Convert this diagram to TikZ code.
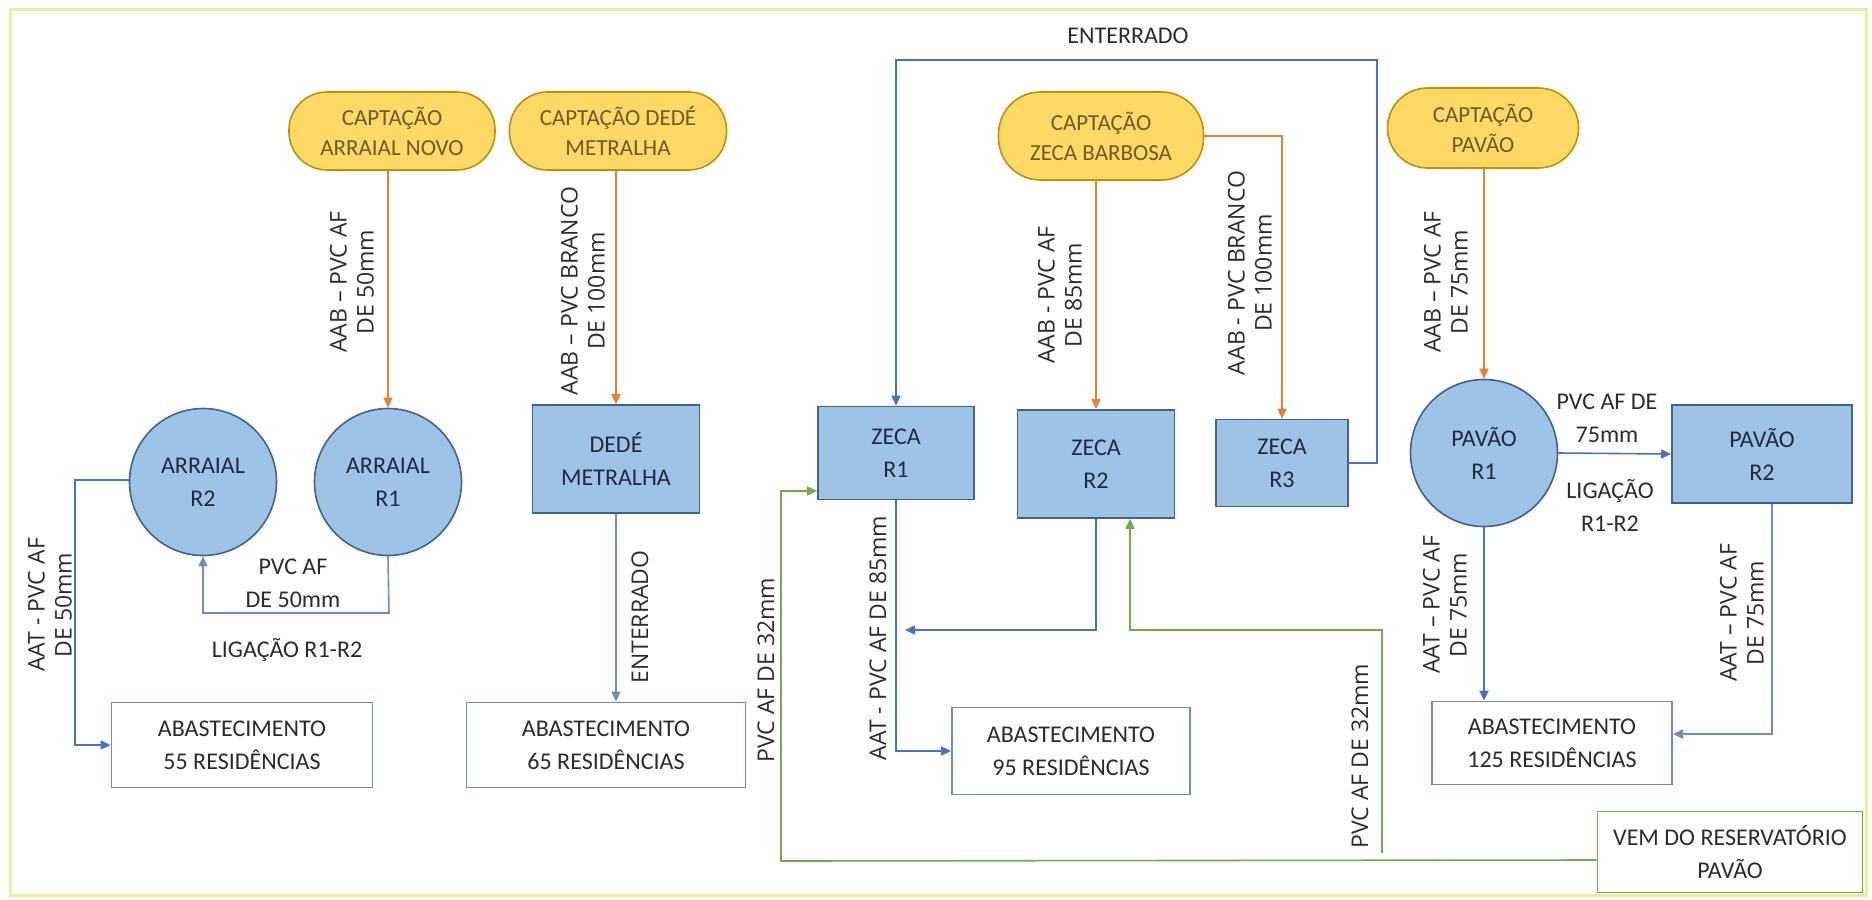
\documentclass[tikz,border=0pt]{standalone}
\usepackage{fontspec}
\setmainfont{Carlito}
\newfontfamily\labfont{Open Sans}
\usetikzlibrary{arrows.meta}
\definecolor{framecol}{HTML}{EEEE99}
\definecolor{bfill}{HTML}{9DC3E6}
\definecolor{bdraw}{HTML}{41628C}
\definecolor{btext}{HTML}{1F2A44}
\definecolor{bline}{HTML}{4472C4}
\definecolor{wdraw}{HTML}{6E8CBE}
\definecolor{yfill}{HTML}{FFD966}
\definecolor{ydraw}{HTML}{BF9000}
\definecolor{ytext}{HTML}{6E5B2A}
\definecolor{oline}{HTML}{ED7D31}
\definecolor{gline}{HTML}{70AD47}
\definecolor{ltext}{HTML}{2B2B2B}
\tikzset{
  capt/.style={draw=ydraw, fill=yfill, line width=0.8pt, rounded corners=19pt, align=center,
    text=ytext, font=\fontsize{11.5}{15}\selectfont, inner sep=0pt},
  tank/.style={draw=bdraw, fill=bfill, line width=0.8pt, align=center, text=btext,
    font=\fontsize{12}{16.5}\selectfont, inner sep=0pt},
  rtank/.style={tank, circle, minimum size=73.5pt},
  supply/.style={draw=wdraw, fill=white, line width=0.9pt, align=center, text=ltext,
    font=\fontsize{12}{16.5}\selectfont, inner sep=0pt},
  vemb/.style={draw=gline, fill=white, line width=0.9pt, align=center, text=ltext,
    font=\fontsize{12}{16.5}\selectfont, inner sep=0pt},
  rlab/.style={rotate=90, align=center, text=ltext, font=\labfont\fontsize{11.5}{13.5}\selectfont, inner sep=0pt},
  hlab/.style={align=center, text=ltext, font=\fontsize{12}{16.5}\selectfont, inner sep=0pt},
  tip/.style={-{Triangle[length=5pt,width=4.5pt]}},
  oarrow/.style={tip, draw=oline, line width=0.75pt},
  barrow/.style={tip, draw=bline, line width=0.8pt},
  bpale/.style={tip, draw=wdraw, line width=0.8pt},
  garrow/.style={tip, draw=gline, line width=0.8pt},
  gline/.style={draw=gline, line width=0.8pt}
}
\begin{document}
\begin{tikzpicture}[x=0.5pt, y=-0.5pt]
\useasboundingbox (0,0) rectangle (1872,899);
\draw[framecol, line width=1.5pt] (10,10) rectangle (1866,895);

% sources
\node[capt, minimum width=103pt, minimum height=39pt] (capAN) at (392,131) {CAPTAÇÃO\\ARRAIAL NOVO};
\node[capt, minimum width=108.5pt, minimum height=39pt] (capDD) at (618,131) {CAPTAÇÃO DEDÉ\\METRALHA};
\node[capt, minimum width=102.5pt, minimum height=44pt, rounded corners=21pt] (capZB) at (1101,136) {CAPTAÇÃO\\ZECA BARBOSA};
\node[capt, minimum width=95.5pt, minimum height=40pt, rounded corners=20pt] (capPV) at (1483,128) {CAPTAÇÃO\\PAVÃO};

% reservoirs
\node[rtank] (arR2) at (203,482) {ARRAIAL\\R2};
\node[rtank] (arR1) at (388,482) {ARRAIAL\\R1};
\node[tank, minimum width=83.5pt, minimum height=54pt] (dede) at (616,459) {DEDÉ\\METRALHA};
\node[tank, minimum width=78pt, minimum height=46.5pt] (zR1) at (896,453) {ZECA\\R1};
\node[tank, minimum width=78.5pt, minimum height=54pt] (zR2) at (1096,464) {ZECA\\R2};
\node[tank, minimum width=66pt, minimum height=43.5pt] (zR3) at (1282,463) {ZECA\\R3};
\node[rtank] (pvR1) at (1484,453) {PAVÃO\\R1};
\node[tank, minimum width=90pt, minimum height=49pt] (pvR2) at (1762,454) {PAVÃO\\R2};

% supplies
\node[supply, minimum width=130.5pt, minimum height=42.5pt] (ab55) at (242,745) {ABASTECIMENTO\\55 RESIDÊNCIAS};
\node[supply, minimum width=139.5pt, minimum height=42.5pt] (ab65) at (606,745) {ABASTECIMENTO\\65 RESIDÊNCIAS};
\node[supply, minimum width=119pt, minimum height=43.5pt] (ab95) at (1071,751) {ABASTECIMENTO\\95 RESIDÊNCIAS};
\node[supply, minimum width=120pt, minimum height=41.5pt] (ab125) at (1552,743) {ABASTECIMENTO\\125 RESIDÊNCIAS};
\node[vemb, minimum width=132.5pt, minimum height=40.5pt] (vem) at (1730,852) {VEM DO RESERVATÓRIO\\PAVÃO};

% orange intakes
\draw[oarrow] (arR1.north |- capAN.south) -- (arR1.north);
\draw[oarrow] (dede.north |- capDD.south) -- (dede.north);
\draw[oarrow] (zR2.north |- capZB.south) -- (zR2.north);
\draw[oarrow] (capZB.east) -| (zR3.north);
\draw[oarrow] (pvR1.north |- capPV.south) -- (pvR1.north);

% blue connections
\coordinate (tr) at (1377,60);
\draw[barrow] (zR3.east) -| (tr) -| (zR1.north);
\node[hlab] (lEntTop) at (1128,36) {ENTERRADO};

\coordinate (aR) at (389,613);
\draw[bpale] (arR1.south) -- (aR) -| (arR2.south);
\coordinate (aL) at (75,480);
\draw[barrow] (arR2.west |- aL) -- (aL) |- (ab55.west);
\draw[bpale] (dede.south) -- (dede.south |- ab65.north);
\coordinate (zj) at (905,630);
\draw[barrow] (zR2.south) |- (zj);
\draw[barrow] (zR1.south) |- (ab95.west);
\draw[barrow] (pvR1.east) -- (pvR2.west);
\draw[barrow] (pvR1.south) -- (pvR1.south |- ab125.north);
\draw[bpale] ([xshift=5pt]pvR2.south) |- ([yshift=4.5pt]ab125.east);

% green feed
\coordinate (g1) at (781,861);
\coordinate (g2) at (781,491);
\draw[garrow] ([yshift=-4pt]vem.west) -- (g1) -- (g2) -- (g2 -| zR1.west);
\coordinate (g3) at (1382,853);
\coordinate (g4) at (1130,630);
\draw[garrow] (g3) |- (g4) -- (g4 |- zR2.south);

% rotated labels
\node[rlab] (lAN) at (352,282) {AAB – PVC AF\\DE 50mm};
\node[rlab] (lDD) at (583,291) {AAB – PVC BRANCO\\DE 100mm};
\node[rlab] (lZ2) at (1060,295) {AAB - PVC AF\\DE 85mm};
\node[rlab] (lZ3) at (1250,273) {AAB - PVC BRANCO\\DE 100mm};
\node[rlab] (lPV) at (1446,282) {AAB – PVC AF\\DE 75mm};
\node[rlab] (lA55) at (50,605) {AAT - PVC AF\\DE 50mm};
\node[rlab] (lEnt) at (640,617) {ENTERRADO};
\node[rlab] (lZ85) at (878,638) {AAT - PVC AF DE 85mm};
\node[rlab] (lG1) at (766,670) {PVC AF DE 32mm};
\node[rlab] (lG2) at (1360,756) {PVC AF DE 32mm};
\node[rlab] (lP1) at (1445,605) {AAT – PVC AF\\DE 75mm};
\node[rlab] (lP2) at (1742,613) {AAT – PVC AF\\DE 75mm};

% horizontal labels
\node[hlab] (lA50) at (293,583) {PVC AF\\DE 50mm};
\node[hlab] (lAlig) at (287,650) {LIGAÇÃO R1-R2};
\node[hlab] (lP75) at (1607,418) {PVC AF DE\\75mm};
\node[hlab] (lPlig) at (1610,505) {LIGAÇÃO\\R1-R2};
\end{tikzpicture}
\end{document}
